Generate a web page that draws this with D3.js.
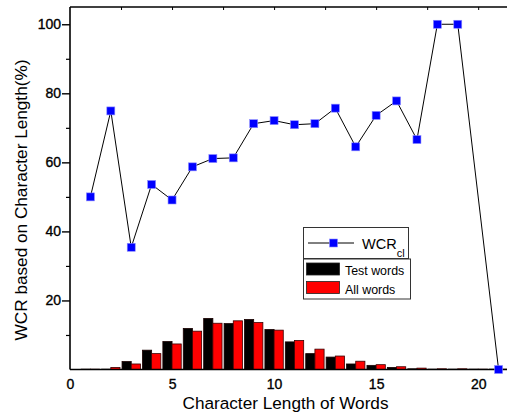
<!DOCTYPE html>
<html>
<head>
<meta charset="utf-8">
<script src="https://cdn.jsdelivr.net/npm/d3@7"></script>
<style>
  body { margin: 0; background: #fff; }
  text { font-family: "Liberation Sans", Arial, sans-serif; }
</style>
</head>
<body>
<svg id="chart" width="507" height="418"></svg>
<script>
// data
var lengths = [1, 2, 3, 4, 5, 6, 7, 8, 9, 10, 11, 12, 13, 14, 15, 16, 17, 18, 19, 20, 21];
var testWords = [0.1, 0.1, 2.3, 5.6, 8.1, 11.9, 14.8, 13.3, 14.5, 11.6, 8.0, 4.6, 3.6, 1.6, 1.2, 0.6, 0.2, 0.1, 0.1, 0.1, 0.1];
var allWords = [0.1, 0.6, 1.6, 4.6, 7.4, 11.1, 13.4, 14.1, 13.6, 11.4, 8.4, 5.9, 3.9, 2.4, 1.4, 0.8, 0.4, 0.2, 0.2, 0.1, 0.1];
var wcrX = [1, 2, 3, 4, 5, 6, 7, 8, 9, 10, 11, 12, 13, 14, 15, 16, 17, 18, 19, 21];
var wcrY = [50.0, 74.9, 35.4, 53.6, 49.1, 58.7, 61.1, 61.3, 71.2, 72.1, 70.9, 71.2, 75.7, 64.5, 73.6, 77.8, 66.6, 100, 100, 0];
var xTicks = [0, 5, 10, 15, 20];
var yTicks = [20, 40, 60, 80, 100];
var yMinor = [10, 30, 50, 70, 90];

function wrapper(){
var svg = d3.select("#chart");
var left = 70, right = 519, plotTop = 7, bottom = 369.5;

var x = d3.scaleLinear().domain([0, 22]).range([left, right]);
var y = d3.scaleLinear().domain([0, 105]).range([bottom, plotTop]);
var barW = 0.45;

//bars
svg.append("g").selectAll("rect.test")
  .data(lengths)
  .enter().append("rect")
    .attr("x", function(d){ return x(d - barW); })
    .attr("y", function(d, i){ return y(testWords[i]); })
    .attr("width", x(barW) - x(0))
    .attr("height", function(d, i){ return y(0) - y(testWords[i]); })
    .attr("fill", "#000")
    .attr("stroke", "#1a0000")
    .attr("stroke-width", 0.8);

svg.append("g").selectAll("rect.all")
  .data(lengths)
  .enter().append("rect")
    .attr("x", function(d){ return x(d); })
    .attr("y", function(d, i){ return y(allWords[i]); })
    .attr("width", x(barW) - x(0))
    .attr("height", function(d, i){ return y(0) - y(allWords[i]); })
    .attr("fill", "#ff0000")
    .attr("stroke", "#3a0000")
    .attr("stroke-width", 0.8);

//frame: left and bottom axis lines, top line
svg.append("line").attr("x1", left).attr("x2", left).attr("y1", plotTop).attr("y2", bottom)
  .attr("stroke", "#000").attr("stroke-width", 1.6);
svg.append("line").attr("x1", left).attr("x2", right).attr("y1", bottom).attr("y2", bottom)
  .attr("stroke", "#000").attr("stroke-width", 1.6);
svg.append("line").attr("x1", left).attr("x2", right).attr("y1", plotTop).attr("y2", plotTop)
  .attr("stroke", "#000").attr("stroke-width", 1.4);

//y axis
var yAxis = d3.axisLeft(y).tickValues(yTicks).tickSize(8).tickPadding(1);
var yg = svg.append("g").attr("transform", "translate(" + left + ",0)").call(yAxis);
yg.select(".domain").remove();
yg.selectAll("line").attr("stroke-width", 1.4);
yg.selectAll("text").attr("font-size", 14).attr("font-family", "Liberation Sans, Arial, sans-serif")
  .attr("stroke", "#000").attr("stroke-width", 0.35);

var ym = d3.axisLeft(y).tickValues(yMinor).tickSize(4).tickFormat("");
var ymg = svg.append("g").attr("transform", "translate(" + left + ",0)").call(ym);
ymg.select(".domain").remove();
ymg.selectAll("line").attr("stroke-width", 1.2);

//x axis (labels only)
var xAxis = d3.axisBottom(x).tickValues(xTicks).tickSize(0).tickPadding(10);
var xg = svg.append("g").attr("transform", "translate(0," + bottom + ")").call(xAxis);
xg.select(".domain").remove();
xg.selectAll("text").attr("font-size", 14).attr("font-family", "Liberation Sans, Arial, sans-serif")
  .attr("stroke", "#000").attr("stroke-width", 0.35);

//top ticks, pointing in
var xTop = d3.axisTop(x).tickValues(d3.range(2.5, 22, 2.5)).tickSize(-3).tickFormat("");
var xtg = svg.append("g").attr("transform", "translate(0," + plotTop + ")").call(xTop);
xtg.select(".domain").remove();

//line
var line = d3.line()
  .x(function(d, i){ return x(wcrX[i]); })
  .y(function(d){ return y(d); });

svg.append("path")
  .datum(wcrY)
  .attr("d", line)
  .attr("fill", "none")
  .attr("stroke", "#000")
  .attr("stroke-width", 1);

svg.append("g").selectAll("rect.marker")
  .data(wcrY)
  .enter().append("rect")
    .attr("x", function(d, i){ return x(wcrX[i]) - 4; })
    .attr("y", function(d){ return y(d) - 4; })
    .attr("width", 8)
    .attr("height", 8)
    .attr("fill", "#0000ff")
    .attr("stroke", "#8c8cff")
    .attr("stroke-width", 0.6);

//axis titles
svg.append("text")
  .attr("transform", "translate(26.5,200) rotate(-90)")
  .attr("text-anchor", "middle")
  .attr("font-size", 17.2)
  .text("WCR based on Character Length(%)");

svg.append("text")
  .attr("x", 285.5)
  .attr("y", 408.5)
  .attr("text-anchor", "middle")
  .attr("font-size", 17.2)
  .text("Character Length of Words");

//legend 1
var lg = svg.append("g");
lg.append("rect").attr("x", 303.5).attr("y", 227.5).attr("width", 105).attr("height", 31)
  .attr("fill", "#fff").attr("stroke", "#333").attr("stroke-width", 1);
lg.append("line").attr("x1", 308).attr("x2", 354).attr("y1", 243).attr("y2", 243)
  .attr("stroke", "#000").attr("stroke-width", 1);
lg.append("rect").attr("x", 329.5).attr("y", 239).attr("width", 8).attr("height", 8)
  .attr("fill", "#0000ff").attr("stroke", "#8c8cff").attr("stroke-width", 0.6);
var wcrText = lg.append("text").attr("x", 362).attr("y", 249).attr("font-size", 14.5);
wcrText.append("tspan").text("WCR");
wcrText.append("tspan").attr("dy", 7.5).attr("font-size", 11).text("cl");

//legend 2
var lg2 = svg.append("g");
lg2.append("rect").attr("x", 303.5).attr("y", 259).attr("width", 107).attr("height", 40)
  .attr("fill", "#fff").attr("stroke", "#333").attr("stroke-width", 1);
var barLegend = [["Test words", "#000"], ["All words", "#ff0000"]];
barLegend.forEach(function(d, i){
  lg2.append("rect").attr("x", 306.5).attr("y", 263 + i * 18.5).attr("width", 33).attr("height", 12)
    .attr("fill", d[1]).attr("stroke", "#222").attr("stroke-width", 0.8);
  lg2.append("text").attr("x", 345).attr("y", 275 + i * 18.5).attr("font-size", 12.4).text(d[0]);
});
}
wrapper();
</script>
</body>
</html>
